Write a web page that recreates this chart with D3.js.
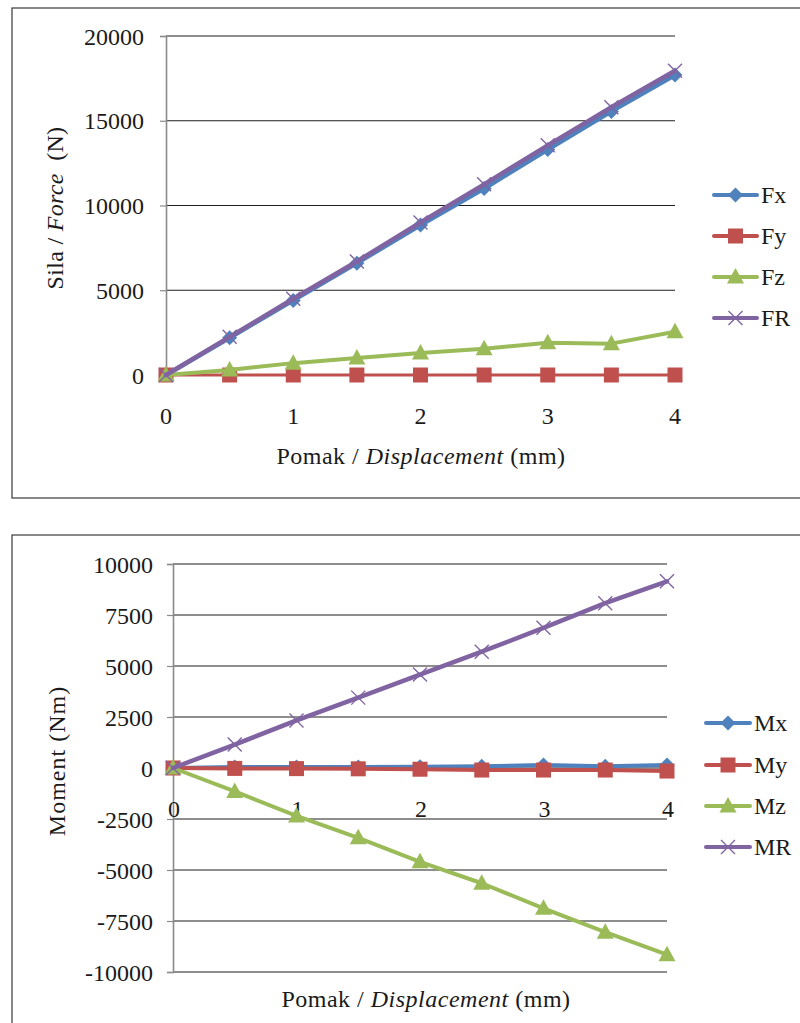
<!DOCTYPE html>
<html>
<head>
<meta charset="utf-8">
<script src="https://cdn.jsdelivr.net/npm/d3@7"></script>
</head>
<body style="margin:0;background:#fff">
<svg id="chart" width="800" height="1023" style="display:block"></svg>
<script>
// Displacement steps (mm)
const displacement = [0, 0.5, 1, 1.5, 2, 2.5, 3, 3.5, 4];
const xTicks = [0, 1, 2, 3, 4];

// Forces (N)
const forceNames = ["Fx", "Fy", "Fz", "FR"];
const Fx = [0, 2200, 4400, 6600, 8850, 11000, 13300, 15550, 17700];
const Fy = [0, 0, 0, 0, 0, 0, 0, 0, 0];
const Fz = [0, 300, 700, 1000, 1300, 1550, 1900, 1850, 2550];
const FR = [0, 2250, 4500, 6700, 9000, 11250, 13550, 15800, 17950];
const forceTicks = [0, 5000, 10000, 15000, 20000];

// Moments (Nm)
const momentNames = ["Mx", "My", "Mz", "MR"];
const Mx = [0, 50, 50, 50, 60, 80, 150, 80, 150];
const My = [0, -20, -30, -40, -60, -100, -100, -100, -150];
const Mz = [0, -1150, -2350, -3420, -4600, -5650, -6880, -8050, -9150];
const MR = [0, 1150, 2330, 3450, 4580, 5700, 6870, 8080, 9150];
const momentTicks = [-10000, -7500, -5000, -2500, 0, 2500, 5000, 7500, 10000];

const colors = ["#4F81BD", "#C0504D", "#9BBB59", "#8064A2"];
const markers = ["diamond", "square", "triangle", "cross"];

const svg = d3.select("#chart");
const FACE = "Liberation Serif";
const INK = "#1a1a1a";

// apply the chart typeface to a text selection
function serif(sel) {
  return sel.style("font-family", `"${FACE}"`).style("font-size", "24px").style("fill", INK);
}

function drawMarker(g, type, color, cx, cy) {
  if (type === "diamond") {
    const r = 7.5;
    g.append("path").attr("d", `M${cx},${cy - r}L${cx + r},${cy}L${cx},${cy + r}L${cx - r},${cy}Z`)
      .attr("fill", color);
  } else if (type === "square") {
    g.append("rect").attr("x", cx - 7.5).attr("y", cy - 7.5)
      .attr("width", 15).attr("height", 15).attr("fill", color);
  } else if (type === "triangle") {
    g.append("path").attr("d", `M${cx},${cy - 9}L${cx + 8.5},${cy + 6.5}L${cx - 8.5},${cy + 6.5}Z`)
      .attr("fill", color);
  } else {
    const s = 7;
    g.append("path").attr("d", `M${cx - s},${cy - s}L${cx + s},${cy + s}M${cx - s},${cy + s}L${cx + s},${cy - s}`)
      .attr("stroke", color).attr("stroke-width", 1.4).attr("fill", "none");
  }
}

function drawChart(opt) {
  const g = svg.append("g");
  // frame
  g.append("rect").attr("x", opt.frame[0]).attr("y", opt.frame[1])
    .attr("width", opt.frame[2]).attr("height", opt.frame[3])
    .attr("fill", "none").attr("stroke", "#3a3a3a").attr("stroke-width", 1.2);

  const x = d3.scaleLinear().domain([0, 4]).range(opt.xRange);
  const y = d3.scaleLinear().domain(opt.yDomain).range(opt.yRange);

  // horizontal gridlines
  g.append("g").selectAll("line").data(opt.yTicks).join("line")
    .attr("x1", x(0)).attr("x2", x(4))
    .attr("y1", d => y(d)).attr("y2", d => y(d))
    .attr("stroke", "#1e1e1e").attr("stroke-width", 1.2);

  // y axis
  const yAxis = g.append("g").attr("transform", `translate(${x(0)},0)`)
    .call(d3.axisLeft(y).tickValues(opt.yTicks).tickSize(6).tickPadding(opt.yPad)
      .tickFormat(d => String(d)));
  yAxis.attr("font-family", null).attr("font-size", null);
  yAxis.select(".domain").attr("stroke", "#8a8a8a").attr("stroke-width", 1.6);
  yAxis.selectAll(".tick line").attr("stroke", "#8a8a8a").attr("stroke-width", 1.2);
  serif(yAxis.selectAll(".tick text")).attr("dy", "0.34em");

  // x tick labels
  serif(g.append("g").selectAll("text").data(xTicks).join("text")
    .attr("x", d => x(d) + opt.xLabelShift).attr("y", opt.xLabelY)
    .attr("text-anchor", "middle").text(d => d));

  // axis titles
  const xt = serif(g.append("text").attr("x", opt.xTitle[0]).attr("y", opt.xTitle[1])
    .attr("text-anchor", "middle")).style("letter-spacing", "0.5px");
  xt.append("tspan").text("Pomak / ");
  xt.append("tspan").style("font-style", "italic").text("Displacement");
  xt.append("tspan").text(" (mm)");

  const yt = serif(g.append("text")
    .attr("transform", `translate(${opt.yTitle[0]},${opt.yTitle[1]}) rotate(-90)`)
    .attr("text-anchor", "middle")).style("letter-spacing", opt.yTitleSpacing);
  opt.yTitleParts.forEach(p => {
    const t = yt.append("tspan").text(p.t);
    if (p.i) t.style("font-style", "italic");
  });

  // series
  const line = d3.line().x((d, i) => x(displacement[i])).y(d => y(d));
  opt.series.forEach((s, k) => {
    const sg = g.append("g");
    sg.append("path").datum(s).attr("d", line)
      .attr("fill", "none").attr("stroke", colors[k])
      .attr("stroke-width", opt.widths[k]).attr("stroke-linejoin", "round").attr("stroke-linecap", "round");
    s.forEach((v, i) => drawMarker(sg, markers[k], colors[k], x(displacement[i]), y(v)));
  });

  // legend
  const lg = g.append("g");
  opt.names.forEach((n, k) => {
    const ly = opt.legendY[k];
    lg.append("line").attr("x1", opt.legendX[0]).attr("x2", opt.legendX[1])
      .attr("y1", ly).attr("y2", ly).attr("stroke", colors[k]).attr("stroke-width", 4)
      .attr("stroke-linecap", "round");
    drawMarker(lg, markers[k], colors[k], (opt.legendX[0] + opt.legendX[1]) / 2, ly);
    serif(lg.append("text").attr("x", opt.legendX[1] + 4).attr("y", ly + 8).text(n));
  });
}

drawChart({
  frame: [12, 8, 800, 490],
  xRange: [166, 675],
  yDomain: [0, 20000],
  yRange: [375, 36],
  yTicks: forceTicks,
  yPad: 16,
  xLabelY: 424,
  xLabelShift: 0,
  xTitle: [421, 464],
  yTitle: [63, 208],
  yTitleSpacing: "0.3px",
  yTitleParts: [{ t: "Sila / " }, { t: "Force", i: true }, { t: "\u00a0 (N)" }],
  series: [Fx, Fy, Fz, FR],
  widths: [4.5, 3, 4, 4.5],
  names: forceNames,
  legendX: [714, 757],
  legendY: [195, 236, 277, 318]
});

drawChart({
  frame: [12, 535, 800, 500],
  xRange: [173, 667],
  yDomain: [-10000, 10000],
  yRange: [972, 564],
  yTicks: momentTicks,
  yPad: 14,
  xLabelY: 817,
  xLabelShift: 1,
  xTitle: [426, 1007],
  yTitle: [65, 761],
  yTitleSpacing: "1px",
  yTitleParts: [{ t: "Moment (Nm)" }],
  series: [Mx, My, Mz, MR],
  widths: [4, 4, 4, 4.5],
  names: momentNames,
  legendX: [706, 750],
  legendY: [723, 765, 806, 847]
});
</script>
</body>
</html>
